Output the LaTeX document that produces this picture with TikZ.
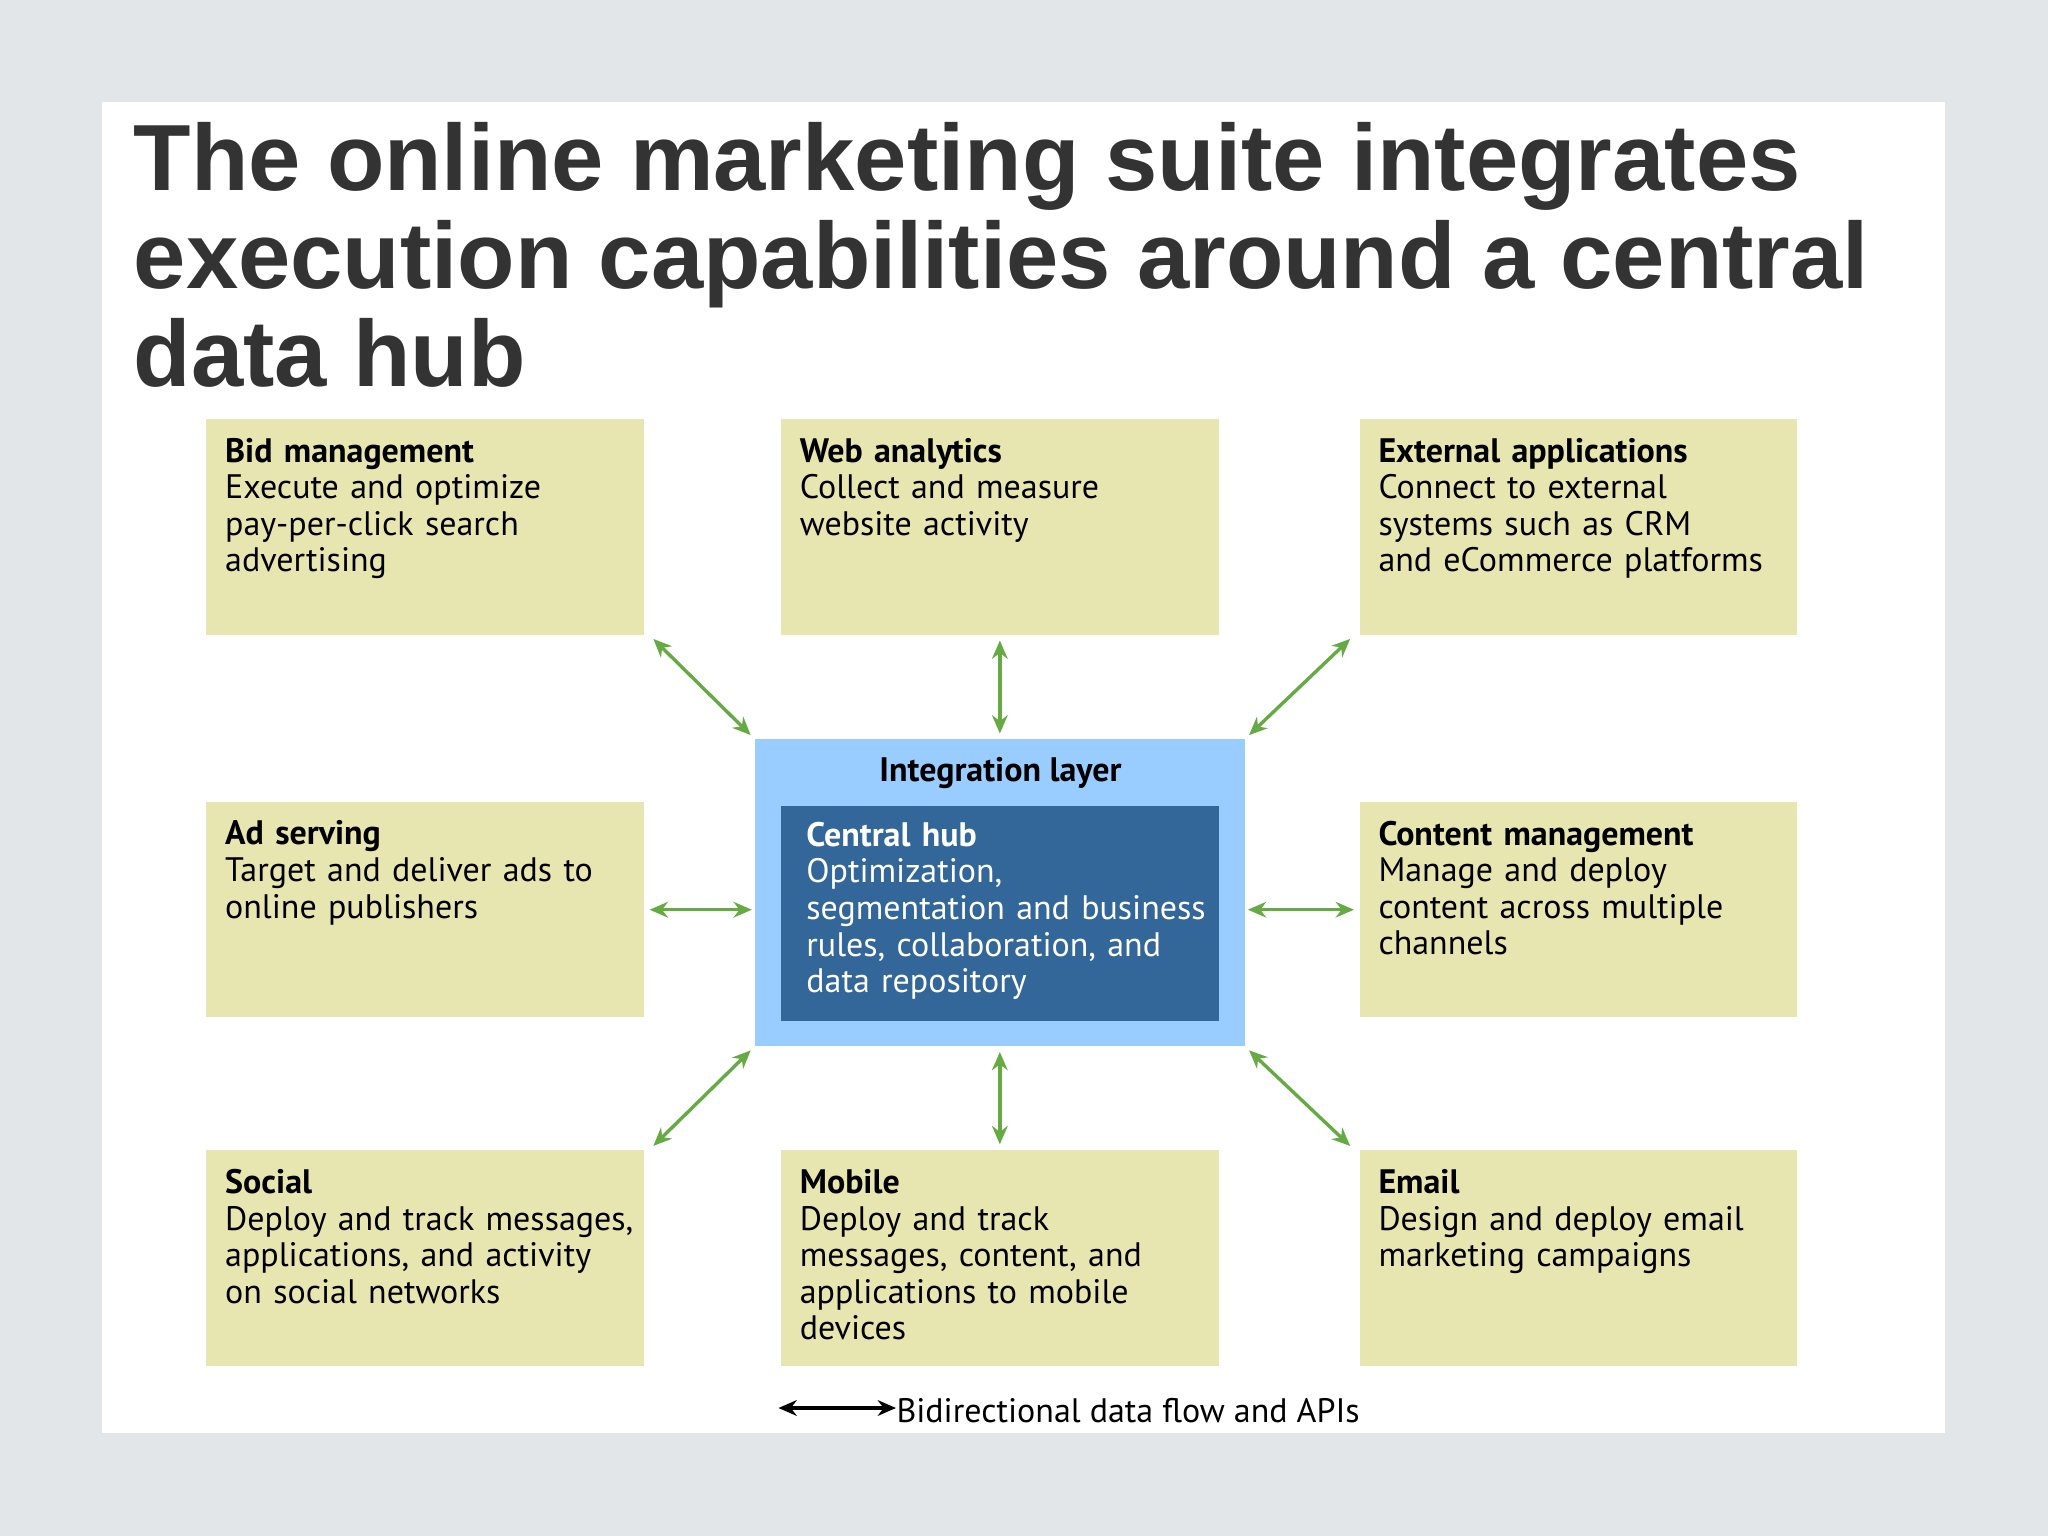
\documentclass[tikz,border=0pt]{standalone}
\usepackage{fontspec}
\setmainfont{PT Sans}
\newfontfamily\titlefont{Liberation Sans}
\usetikzlibrary{arrows.meta}
\definecolor{bg}{HTML}{E3E6E8}
\definecolor{tan}{HTML}{E8E6B0}
\definecolor{lblue}{HTML}{99CCFF}
\definecolor{dblue}{HTML}{336699}
\definecolor{grn}{HTML}{66AA44}
\definecolor{ttl}{HTML}{333333}
\tikzset{
 x=0.5pt,y=-0.5pt,
 box/.style={fill=tan,draw=none,minimum width=167.5pt,minimum height=82.5pt,inner sep=0pt},
 txt/.style={anchor=north west,text width=170pt,align=left,font=\fontsize{13}{14}\selectfont,inner sep=0pt},
 arr/.style={draw=grn,line width=1.3pt,{Stealth[length=7pt,width=6pt]}-{Stealth[length=7pt,width=6pt]}}
}
\begin{document}
\begin{tikzpicture}
\fill[bg] (0,0) rectangle (1568,1176);
\fill[white] (78,78) rectangle (1489,1097);
\node[anchor=north west,inner sep=0pt,align=left,text=ttl,font=\titlefont\bfseries\fontsize{36}{37.5}\selectfont] (title) at (102,93)
 {The online marketing suite integrates\\execution capabilities around a central\\data hub};
% boxes
\node[box] (bid) at (325.5,403.5) {};
\node[box] (web) at (765.5,403.5) {};
\node[box] (ext) at (1208.5,403.5) {};
\node[box] (ad) at (325.5,696.5) {};
\node[box] (cm) at (1208.5,696.5) {};
\node[box] (soc) at (325.5,963) {};
\node[box] (mob) at (765.5,963) {};
\node[box] (em) at (1208.5,963) {};
\node[fill=lblue,minimum width=187.5pt,minimum height=117.5pt,inner sep=0pt] (int) at (765.5,683.5) {};
\node[fill=dblue,minimum width=167.5pt,minimum height=82.5pt,inner sep=0pt] (hub) at (765.5,699.5) {};
% texts
\node[txt] (t1) at (172,335) {\textbf{Bid management}\\Execute and optimize\\pay-per-click search\\advertising};
\node[txt] (t2) at (612,335) {\textbf{Web analytics}\\Collect and measure\\website activity};
\node[txt] (t3) at (1055,335) {\textbf{External applications}\\Connect to external\\systems such as CRM\\and eCommerce platforms};
\node[txt] (t4) at (172,628) {\textbf{Ad serving}\\Target and deliver ads to\\online publishers};
\node[txt] (t5) at (1055,628) {\textbf{Content management}\\Manage and deploy\\content across multiple\\channels};
\node[txt] (t6) at (172,895) {\textbf{Social}\\Deploy and track messages,\\applications, and activity\\on social networks};
\node[txt] (t7) at (612,895) {\textbf{Mobile}\\Deploy and track\\messages, content, and\\applications to mobile\\devices};
\node[txt] (t8) at (1055,895) {\textbf{Email}\\Design and deploy email\\marketing campaigns};
\node[font=\fontsize{13}{14}\selectfont\bfseries,inner sep=0pt] (il) at (766,592) {Integration layer};
\node[txt,text=white,text width=165pt] (t9) at (617,629) {\textbf{Central hub}\\Optimization,\\segmentation and business\\rules, collaboration, and\\data repository};
% arrows
\draw[arr,shorten <=2pt,shorten >=2pt] ([shift={(4,0)}]bid.south east) -- (int.north west);
\draw[arr,shorten <=2pt,shorten >=2pt] (web.south) -- (int.north);
\draw[arr,shorten <=2pt,shorten >=2pt] ([shift={(-4,0)}]ext.south west) -- (int.north east);
\draw[arr,shorten <=2pt,shorten >=1pt] (ad.east) -- (ad.east -| int.west);
\draw[arr,shorten <=1pt,shorten >=2pt] (cm.west -| int.east) -- (cm.west);
\draw[arr,shorten <=2pt,shorten >=2pt] ([shift={(4,0)}]soc.north east) -- (int.south west);
\draw[arr,shorten <=2pt,shorten >=2pt] (mob.north) -- (int.south);
\draw[arr,shorten <=2pt,shorten >=2pt] ([shift={(-4,0)}]em.north west) -- (int.south east);
% legend
\coordinate (la) at (596,1078);
\node[anchor=west,inner sep=0pt,font=\fontsize{13}{14}\selectfont] (lt) at (686,1080) {Bidirectional data flow and APIs};
\draw[line width=1.3pt,{Stealth[length=7pt,width=6pt]}-{Stealth[length=7pt,width=6pt]}] (la) -- (lt.west |- la);
\end{tikzpicture}
\end{document}
